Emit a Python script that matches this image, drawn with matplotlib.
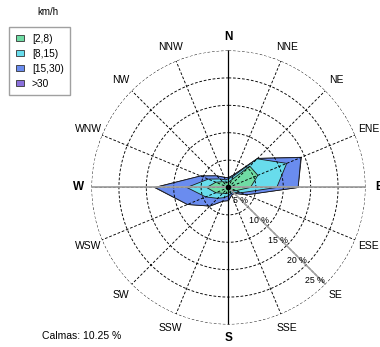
"""Wind rose: frequency of wind direction by speed class."""

import matplotlib

matplotlib.use("Agg")
import matplotlib.pyplot as plt
import numpy as np
from matplotlib.patches import Patch

plt.rcParams["font.family"] = ["Liberation Sans", "DejaVu Sans"]

directions = ["N", "NNE", "NE", "ENE", "E", "ESE", "SE", "SSE",
              "S", "SSW", "SW", "WSW", "W", "WNW", "NW", "NNW"]
speed_classes = ["[2,8)", "[8,15)", "[15,30)", ">30"]
class_colors = ["#6fdca4", "#68dcec", "#6a8cef", "#8a70dc"]

# frequency (%) per direction for each speed class
freq_2_8 = [1.0, 1.5, 5.5, 5.8, 4.0, 1.5, 0.8, 0.8, 1.0, 1.2, 1.5, 2.5, 4.0, 2.5, 1.5, 1.0]
freq_8_15 = [0.6, 0.7, 1.9, 5.7, 4.8, 1.0, 0.4, 0.4, 0.5, 0.8, 1.3, 2.0, 3.6, 1.5, 0.7, 0.5]
freq_15_30 = [0.2, 0.3, 0.1, 2.8, 3.9, 1.0, 0.3, 0.3, 0.9, 0.7, 2.0, 3.6, 5.8, 1.5, 0.8, 0.5]
freq_gt_30 = [0.0, 0.0, 0.0, 0.1, 0.0, 0.0, 0.0, 0.0, 0.0, 0.0, 0.0, 0.0, 0.1, 0.0, 0.0, 0.0]
calms = 10.25

ring_values = [5, 10, 15, 20, 25]

fig = plt.figure(figsize=(3.8, 3.47), dpi=100)
ax = fig.add_axes([0.2408, 0.0649, 0.721, 0.7896], projection="polar")
ax.set_theta_zero_location("N")
ax.set_theta_direction(-1)
ax.set_ylim(0, 25)

theta = np.deg2rad(np.arange(16) * 22.5)
stack = np.cumsum([freq_2_8, freq_8_15, freq_15_30, freq_gt_30], axis=0)

# outermost class first so the inner ones sit on top
for cum, color in zip(stack[::-1], class_colors[::-1]):
    ax.fill(np.append(theta, theta[0]), np.append(cum, cum[0]),
            facecolor=color, edgecolor="#1a1a1a", lw=0.6, zorder=1)

# dashed rings and spokes
dash = (0, (3, 2))
ring_t = np.linspace(0, 2 * np.pi, 361)
for r in ring_values:
    ax.plot(ring_t, np.full_like(ring_t, r), color="black", lw=0.65, ls=dash, zorder=2)
for t in theta:
    ax.plot([t, t], [0, 25], color="black", lw=0.65, ls=dash, zorder=2)
ax.plot([0, 0], [0, 25], color="black", lw=0.9, zorder=3)
ax.plot([np.pi, np.pi], [0, 25], color="black", lw=0.9, zorder=3)
ax.plot([np.pi / 2, np.pi / 2], [0, 25], color="#a0a0a0", lw=1.3, zorder=3)
ax.plot([1.5 * np.pi, 1.5 * np.pi], [0, 25], color="#a0a0a0", lw=1.3, zorder=3)
ax.plot([0.75 * np.pi, 0.75 * np.pi], [0, 25], color="#a0a0a0", lw=1.1, zorder=3)
ax.plot([0], [0], marker="o", ms=3, color="black", zorder=4)

ax.grid(False)
ax.set_xticks([])
ax.set_yticks([])
ax.spines["polar"].set_visible(False)
ax.patch.set_visible(False)

# compass labels
for t, name in zip(theta, directions):
    cardinal = len(name) == 1
    r_lab = 27.4 if cardinal else 27.7
    ax.text(t, r_lab, name, ha="center", va="center", clip_on=False,
            fontsize=8.5 if cardinal else 7.5,
            fontweight="bold" if cardinal else "normal")

# ring percentages along the SE spoke
label_t = np.deg2rad(137)
for r in ring_values:
    ax.text(label_t, r - 1.8, f"{r} %", ha="center", va="center",
            fontsize=6.3, zorder=5)

handles = [Patch(facecolor=c, edgecolor="#333333", lw=0.6) for c in class_colors]
fig.legend(handles, speed_classes, loc="upper left",
           bbox_to_anchor=(9 / 380, 1 - 27 / 347), fontsize=7.3,
           frameon=True, fancybox=False, edgecolor="#888888",
           handlelength=0.8, handleheight=0.55, handletextpad=0.8,
           labelspacing=0.5, borderpad=0.65, borderaxespad=0)
fig.text(48 / 380, 1 - 12 / 347, "km/h", ha="center", va="center", fontsize=7)
fig.text(42 / 380, 1 - 336 / 347, f"Calmas: {calms:.2f} %", ha="left",
         va="center", fontsize=7.5)

fig.savefig("out.png", dpi=100)
